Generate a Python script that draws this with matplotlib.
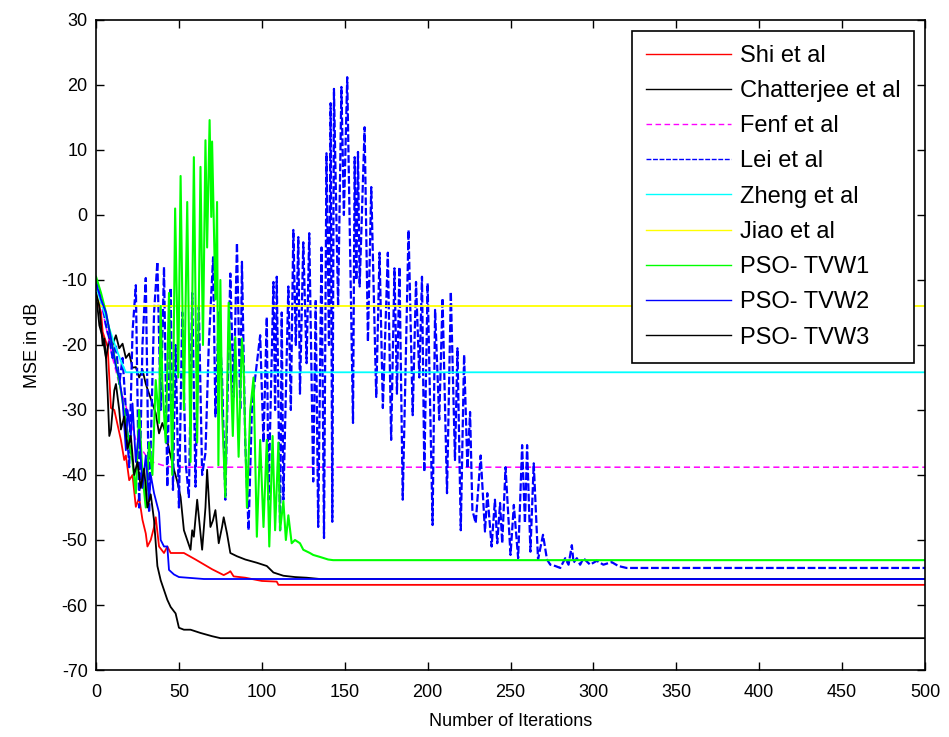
import matplotlib
matplotlib.use('Agg')
import matplotlib.pyplot as plt

plt.rcParams['font.family'] = ['Liberation Sans', 'DejaVu Sans']
plt.rcParams['axes.unicode_minus'] = False

# Shi et al
shi_it = [0, 3, 4, 7, 9, 11, 15, 17, 18, 20, 22, 24, 26, 28, 30, 31, 33, 35, 36, 38, 41, 43, 45,
          53, 60, 70, 77, 80, 81, 83, 90, 100, 109, 110, 500]
shi_mse = [-12.5, -15, -18, -20.3, -29.7, -30, -34.6, -37.7, -37, -40.8, -40, -44.9, -43.5, -46.9, -49, -51,
           -50, -48, -46.5, -51, -52, -51, -52, -52, -53, -54.5, -55.4, -55, -54.8, -55.6, -55.8, -56.3,
           -56.4, -56.9, -56.9]

# Chatterjee et al
chat_it = [0, 2, 4, 6, 8, 10, 12, 14, 16, 18, 20, 22, 24, 26, 28, 30, 32, 34, 36, 38, 40, 42, 44,
           46.6, 49, 51, 53, 55, 57, 58, 59, 61, 63, 64, 66, 67, 69, 70.5, 72, 74, 76, 77, 79, 81, 85,
           90, 97, 103, 107, 113, 120, 127, 135, 500]
chat_mse = [-12, -17, -18.8, -22, -19, -20, -18.5, -20.5, -19.8, -22, -21.3, -23.5, -23.4, -25, -23.8,
            -26, -27.5, -29, -30.5, -33.6, -32, -33.6, -36, -38.8, -41, -43.4, -48.5, -50, -51.5, -48.5,
            -49.5, -43.8, -49, -51.5, -45, -39.2, -48, -47, -45.4, -50.5, -48, -46.5, -49, -52, -52.5,
            -53, -53.5, -54, -55, -55.5, -55.7, -55.8, -56, -56]

# Fenf et al
fenf_it = [0, 5, 10, 15, 20, 24, 30, 34, 40, 46, 500]
fenf_mse = [-10, -16, -22, -27, -31, -34.6, -37, -38, -38.5, -38.8, -38.8]

# Lei et al
lei_it = [0, 2, 4, 6, 8, 10, 12, 14, 16, 18, 20, 22, 24, 26, 28, 30, 32, 34, 35, 37, 39, 41, 43, 45,
          46.4, 48, 50, 52, 54, 56, 58, 60, 62, 64, 66, 68, 70.6, 72, 74, 76, 78, 80, 81, 83, 85, 87,
          88, 90, 92, 94, 96, 99, 101, 103, 104, 107, 108, 109, 111, 112, 113, 116, 117.5, 119, 120.5,
          122, 123, 125, 127, 128.6, 131, 132.5, 134, 136, 137.5, 139, 140.5, 141.5, 142.5, 143.5, 146,
          148, 149.5, 151.5, 155, 156, 157, 158, 159, 162, 164, 166, 169, 171, 173, 176, 178, 180,
          181.5, 183, 185, 188.5, 191, 193, 195, 196.6, 198, 200, 203, 204.5, 207, 209, 211.7, 214,
          216.5, 218, 220, 222, 224, 225.6, 227, 229, 232, 234.6, 236, 238.6, 240.6, 242, 243.7, 245,
          247, 250, 252, 254.6, 257, 258.7, 260, 262, 264, 266.6, 269.6, 272, 274, 277, 280, 283, 285,
          287, 288, 290, 292, 294, 298, 302, 306, 311, 315, 320, 500]
lei_mse = [-10, -12, -14, -17, -19, -22, -20, -26, -22, -30, -38.8, -18, -10.8, -45, -20, -9.7, -45.8,
           -25, -15, -7.2, -30, -8, -41.8, -11.2, -42.3, -20, -45, -15, -38, -43.4, -12, -41.8, -14, -40,
           -36.6, -20, -6.5, -31, -15, -25, -43.8, -20, -9, -28, -4.3, -30, -7.2, -35, -48.5, -30, -25,
           -18.5, -35, -15.7, -43.8, -10.3, -30, -9.5, -48.5, -15, -43.8, -11, -30, -2.3, -20, -3.4,
           -27.5, -4.2, -22.8, -2.8, -41, -13, -48, -5, -49.7, 9.5, -20, 17.2, -47.2, 19.4, -14.2, 19.7,
           0, 21.2, -32, 8.9, -10, 9.7, -11, 13.5, -19.5, 4.3, -28, -5.8, -29.7, -5.8, -34.6, -8.2,
           -27.5, -8, -43.8, -2.3, -30.8, -10.3, -25, -9.5, -39.5, -10.5, -47.7, -14.6, -31.5, -12.8,
           -42.8, -11.8, -37.7, -20.5, -48.5, -21.5, -39, -30.3, -45.4, -47.4, -37, -48.7, -42.8, -51,
           -43.8, -50.5, -44.3, -50.5, -38.8, -52.3, -44.6, -52.8, -35.4, -47.4, -35.4, -51.8, -38.2,
           -53, -49.2, -53, -53.8, -54, -54.3, -52.8, -53.8, -50.8, -53.5, -52.8, -53.8, -52.8, -53.8,
           -53.2, -53.8, -53.4, -54, -54.3, -54.3]

# Zheng et al
zheng_it = [0, 5, 10, 15, 18, 500]
zheng_mse = [-11, -15, -19, -22.5, -24.2, -24.2]

# Jiao et al
jiao_it = [0, 2.5, 500]
jiao_mse = [-12.3, -14, -14]

# PSO- TVW1
tvw1_it = [0, 3, 6, 9, 12, 15, 18, 20, 22, 24, 26, 28, 30, 32, 34, 36, 38, 39, 40, 42, 44, 45, 46,
           47.7, 49.6, 51, 53, 55, 57, 59, 61, 63, 64.5, 66, 67, 68.5, 69.5, 70, 72, 73, 73.8, 75, 76,
           78, 80, 82.5, 84, 86, 88, 89, 91, 93, 95, 97, 99, 101, 103, 104.5, 106.5, 108, 110, 111,
           113, 114.5, 116, 118, 120, 123, 125, 129, 131, 135, 140, 143, 500]
tvw1_mse = [-9.5, -12, -15, -19, -23, -27, -32, -35, -38, -42.8, -30, -40, -45, -35, -40, -25.4, -32,
            -14, -25.9, -35, -12, -27, -40, 1, -25, 6, -30, 2, -38, 8.9, -35, 7.4, -20, 11.5, -5, 14.6,
            -0.3, 11.3, -13, 2, -38.5, -10, -30, -43.4, -13.5, -34, -18.8, -37.2, -19, -23.4, -45, -30,
            -25, -49.5, -34.6, -48, -34.6, -51, -34, -48.5, -35, -48.5, -44, -50, -46.2, -50.5, -50,
            -50.5, -51.5, -52, -52.3, -52.6, -53, -53.1, -53.1]

# PSO- TVW2
tvw2_it = [0, 3, 6, 9, 12, 14, 16, 18, 19, 21, 22, 24, 26, 28, 30, 32, 33, 35, 38, 39, 41, 43, 44,
           47, 50, 60, 65, 500]
tvw2_mse = [-10.5, -13, -15, -19, -23.4, -25, -28.5, -36.2, -30, -34, -29, -38, -33, -42, -37, -44,
            -40, -42.8, -45.8, -50, -51, -51, -54.6, -55.3, -55.7, -55.9, -56, -56]

# PSO- TVW3
tvw3_it = [0, 2, 4, 5, 6, 7, 8, 9, 10, 11, 12, 13, 14, 15, 17, 19, 21, 23, 25, 27, 29, 31, 33, 35,
           37, 39, 43, 45, 48, 50, 53, 57, 63, 70, 75, 500]
tvw3_mse = [-12, -14, -20, -19, -22, -27.4, -34, -33, -30, -27, -26, -28, -30, -33, -31, -36, -34, -40,
            -38, -42, -39, -45, -43, -47, -54, -56.2, -59.2, -60.3, -61.3, -63.5, -63.8, -63.8, -64.3,
            -64.8, -65.1, -65.1]

x_ticks = list(range(0, 501, 50))
y_ticks = list(range(-70, 31, 10))


def main():
    fig = plt.figure(figsize=(9.49, 7.37), dpi=100)
    ax = fig.add_axes([0.1012, 0.0909, 0.8735, 0.882])

    lw = 1.3
    ax.plot(shi_it, shi_mse, color='#FF0000', lw=lw, label='Shi et al')
    ax.plot(chat_it, chat_mse, color='black', lw=lw, label='Chatterjee et al')
    ax.plot(fenf_it, fenf_mse, color='#FF00FF', lw=1.1, ls='--', dashes=(4, 2.5), label='Fenf et al')
    ax.plot(lei_it, lei_mse, color='#0000FF', lw=1.6, ls='--', dashes=(3.5, 1.2), label='Lei et al')
    ax.plot(zheng_it, zheng_mse, color='#00FFFF', lw=lw, label='Zheng et al')
    ax.plot(jiao_it, jiao_mse, color='#FFFF00', lw=lw, label='Jiao et al')
    ax.plot(tvw1_it, tvw1_mse, color='#00FF00', lw=1.5, label='PSO- TVW1')
    ax.plot(tvw2_it, tvw2_mse, color='#0000FF', lw=lw, label='PSO- TVW2')
    ax.plot(tvw3_it, tvw3_mse, color='black', lw=lw, label='PSO- TVW3')

    ax.set_xlim(0, 500)
    ax.set_ylim(-70, 30)
    ax.set_xticks(x_ticks)
    ax.set_yticks(y_ticks)
    ax.tick_params(direction='in', top=True, right=True, length=6, width=1, labelsize=13)
    ax.tick_params(axis='x', pad=10)
    ax.tick_params(axis='y', pad=6)
    for s in ax.spines.values():
        s.set_linewidth(1.2)
    ax.set_xlabel('Number of Iterations', fontsize=13, labelpad=9)
    ax.set_ylabel('MSE in dB', fontsize=13, labelpad=15)

    leg = ax.legend(loc='upper right', fontsize=17, handlelength=3.6, fancybox=False,
                    framealpha=1, edgecolor='black', borderaxespad=0.45, labelspacing=0.56,
                    handletextpad=0.35, borderpad=0.6)
    leg.get_frame().set_linewidth(1.2)
    for line in leg.get_lines():
        line.set_linewidth(1.0)

    fig.savefig('out.png', dpi=100)


if __name__ == '__main__':
    main()
